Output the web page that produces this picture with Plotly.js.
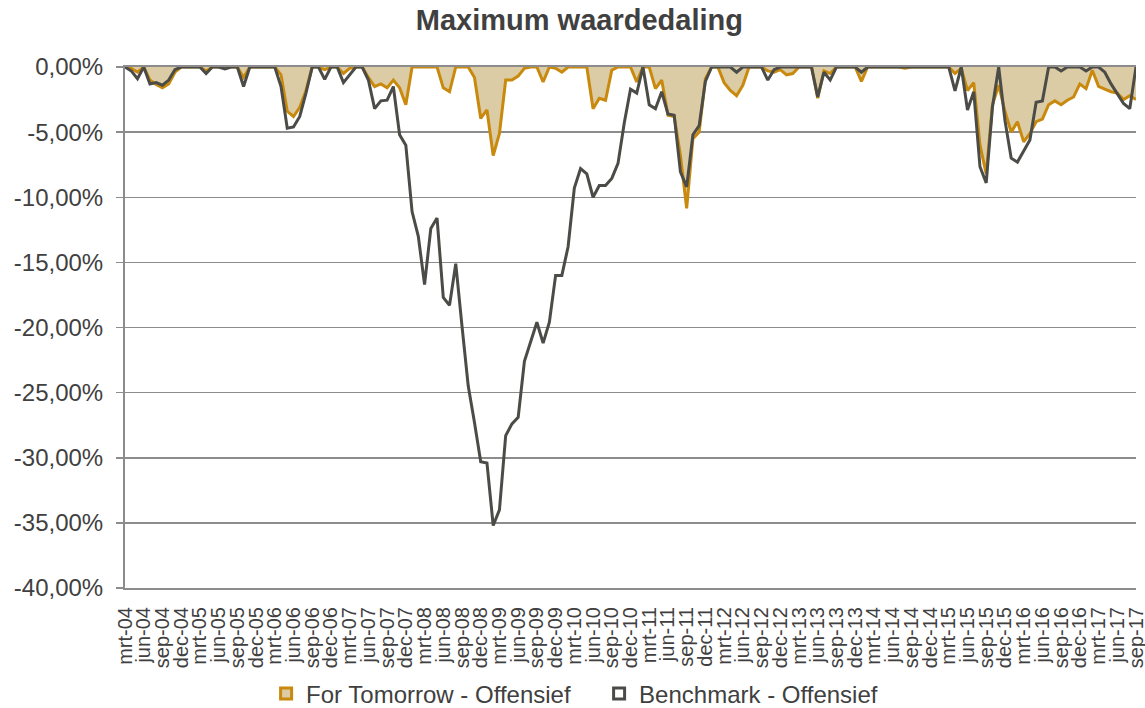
<!DOCTYPE html>
<html>
<head>
<meta charset="utf-8">
<script src="https://cdn.plot.ly/plotly-3.0.1.min.js"></script>
<style>
html,body{margin:0;padding:0;background:#fff;}
#chart{width:1145px;height:708px;}
</style>
</head>
<body>
<div id="chart"></div>
<script>
// Month names (Dutch) and period: mrt-04 .. sep-17 (monthly)
const monthNames = ['jan','feb','mrt','apr','mei','jun','jul','aug','sep','okt','nov','dec'];
const startYear = 2004, startMonth = 2; // March 2004
const nMonths = 163;

// Drawdown series (percent)
const forTomorrow = [
  0, -0.1, -0.4, 0, -1.0, -1.35, -1.6, -1.3, -0.4, 0,
  0, 0, 0, -0.3, 0, 0, 0, 0, 0, -0.8,
  0, 0, 0, 0, 0, -0.6, -3.4, -3.8, -3.1, -1.8,
  0, 0, -0.2, 0, 0, -0.5, -0.1, 0, 0, -0.8,
  -1.5, -1.3, -1.6, -1.0, -1.6, -2.9, 0, 0, 0, 0,
  0, -1.6, -1.9, 0, 0, 0, -0.8, -3.95, -3.3, -6.8,
  -5.1, -1.0, -1.0, -0.7, -0.1, 0, 0, -1.15, 0, -0.1,
  -0.4, 0, 0, 0, 0, -3.2, -2.4, -2.55, -0.25, 0,
  0, 0, -1.15, 0, 0, -1.66, -1.0, -3.7, -3.8, -6.8,
  -10.85, -5.5, -5.0, -0.9, 0, 0, -1.2, -1.8, -2.2, -1.4,
  0, 0, 0, -0.3, -0.4, -0.2, -0.6, -0.5, 0, 0,
  0, -2.4, -0.3, -0.5, 0, 0, 0, 0, -1.1, 0,
  0, 0, 0, 0, 0, -0.1, 0, 0, 0, 0,
  0, 0, 0, -0.5, -0.1, -1.8, -1.2, -6.0, -8.2, -2.9,
  -1.4, -3.4, -5.0, -4.2, -5.75, -5.1, -4.2, -4.0, -2.9, -2.6,
  -2.9, -2.55, -2.3, -1.3, -1.66, -0.25, -1.48, -1.7, -1.9, -2.0,
  -2.5, -2.2, -2.5
];
const benchmark = [
  0, -0.3, -0.9, 0, -1.3, -1.2, -1.4, -1.0, -0.2, 0,
  0, 0, 0, -0.5, 0, 0, -0.15, 0, 0, -1.5,
  0, 0, 0, 0, 0, -1.5, -4.7, -4.6, -3.8, -2.0,
  0, 0, -0.95, 0, 0, -1.2, -0.6, 0, 0, -1.0,
  -3.2, -2.6, -2.55, -1.5, -5.2, -6.0, -11.1, -13.0, -16.7, -12.4,
  -11.6, -17.7, -18.3, -15.1, -19.9, -24.5, -27.3, -30.3, -30.4, -35.2,
  -34.0, -28.3, -27.4, -26.9, -22.6, -21.1, -19.6, -21.2, -19.6, -16.0,
  -16.0, -13.8, -9.3, -7.8, -8.2, -10.0, -9.1, -9.1, -8.55, -7.4,
  -4.3, -1.7, -2.0, 0, -2.9, -3.2, -1.9, -3.6, -3.7, -8.05,
  -9.2, -5.2, -4.5, -1.1, 0, 0, 0, 0, -0.4, 0,
  0, 0, 0, -1.0, -0.2, 0, 0, 0, 0, 0,
  0, -2.3, -0.4, -1.0, 0, 0, 0, 0, -0.4, 0,
  0, 0, 0, 0, 0, 0, 0, 0, 0, 0,
  0, 0, 0, -1.84, 0, -3.3, -1.9, -7.66, -8.9, -3.07,
  0, -4.1, -7.0, -7.3, -6.4, -5.6, -2.7, -2.6, 0, 0,
  -0.3, 0, 0, 0, -0.3, 0, 0, -0.4, -1.3, -2.0,
  -2.8, -3.2, 0
];

// Y tick values and labels
const yTickVals = [0, -5, -10, -15, -20, -25, -30, -35, -40];
const yTickText = ['0,00%', '-5,00%', '-10,00%', '-15,00%', '-20,00%', '-25,00%', '-30,00%', '-35,00%', '-40,00%'];

// Categories
const categories = [];
for (let k = 0; k < nMonths; k++) {
  const m = (startMonth + k) % 12;
  const y = startYear + Math.floor((startMonth + k) / 12);
  categories.push(monthNames[m] + '-' + String(y % 100).padStart(2, '0'));
}
const xTickLabels = categories.filter((c, k) => k % 3 === 0);

const gold = '#c8890c';
const tan = '#dccca6';
const dark = '#4b4b47';
const grid = '#8c8c8c';
const textCol = '#404040';
const font = 'Liberation Sans, Arial, sans-serif';

const traces = [
  {
    x: categories, y: forTomorrow, type: 'scatter', mode: 'lines',
    line: {color: gold, width: 3}, fill: 'tozeroy', fillcolor: tan,
    showlegend: false, hoverinfo: 'skip'
  },
  {
    x: categories, y: benchmark, type: 'scatter', mode: 'lines',
    line: {color: dark, width: 3}, showlegend: false, hoverinfo: 'skip'
  },
  {
    x: [null], y: [null], type: 'scatter', mode: 'markers', name: 'For Tomorrow - Offensief',
    marker: {symbol: 'square', size: 11, color: tan, line: {color: gold, width: 3}}
  },
  {
    x: [null], y: [null], type: 'scatter', mode: 'markers', name: 'Benchmark - Offensief',
    marker: {symbol: 'square', size: 11, color: '#ffffff', line: {color: dark, width: 3}}
  }
];

const layout = {
  width: 1145, height: 708,
  margin: {l: 125, r: 9, t: 67, b: 120},
  paper_bgcolor: '#fff', plot_bgcolor: '#fff',
  font: {family: font, color: textCol},
  title: {
    text: '<b>Maximum waardedaling</b>',
    font: {family: font, size: 29, color: textCol},
    x: 0.506, xanchor: 'center', y: 0.972, yanchor: 'middle'
  },
  xaxis: {
    type: 'category',
    range: [0, nMonths - 1],
    tickmode: 'array', tickvals: xTickLabels, ticktext: xTickLabels,
    tickangle: -90,
    tickfont: {family: font, size: 20, color: textCol},
    showgrid: false, zeroline: false,
    showline: true, mirror: true, linecolor: grid, linewidth: 2,
    ticks: '', ticklabelstandoff: 9,
    layer: 'above traces', fixedrange: true
  },
  yaxis: {
    range: [-40, 0],
    tickmode: 'array', tickvals: yTickVals, ticktext: yTickText,
    tickfont: {family: font, size: 24, color: textCol},
    showgrid: true, gridcolor: grid, gridwidth: 1.5,
    zeroline: false,
    showline: true, linecolor: grid, linewidth: 2,
    ticks: 'outside', ticklen: 7, tickcolor: grid, tickwidth: 1.5,
    ticklabelstandoff: 8,
    layer: 'above traces', fixedrange: true
  },
  legend: {
    orientation: 'h', xref: 'container', yref: 'container',
    x: 0.2324, xanchor: 'left', y: 0.02, yanchor: 'middle',
    font: {family: font, size: 24, color: textCol},
    itemwidth: 30, entrywidth: 288, entrywidthmode: 'pixels',
    traceorder: 'normal'
  },
  showlegend: true
};

Plotly.newPlot('chart', traces, layout, {staticPlot: true, displayModeBar: false});
</script>
</body>
</html>
